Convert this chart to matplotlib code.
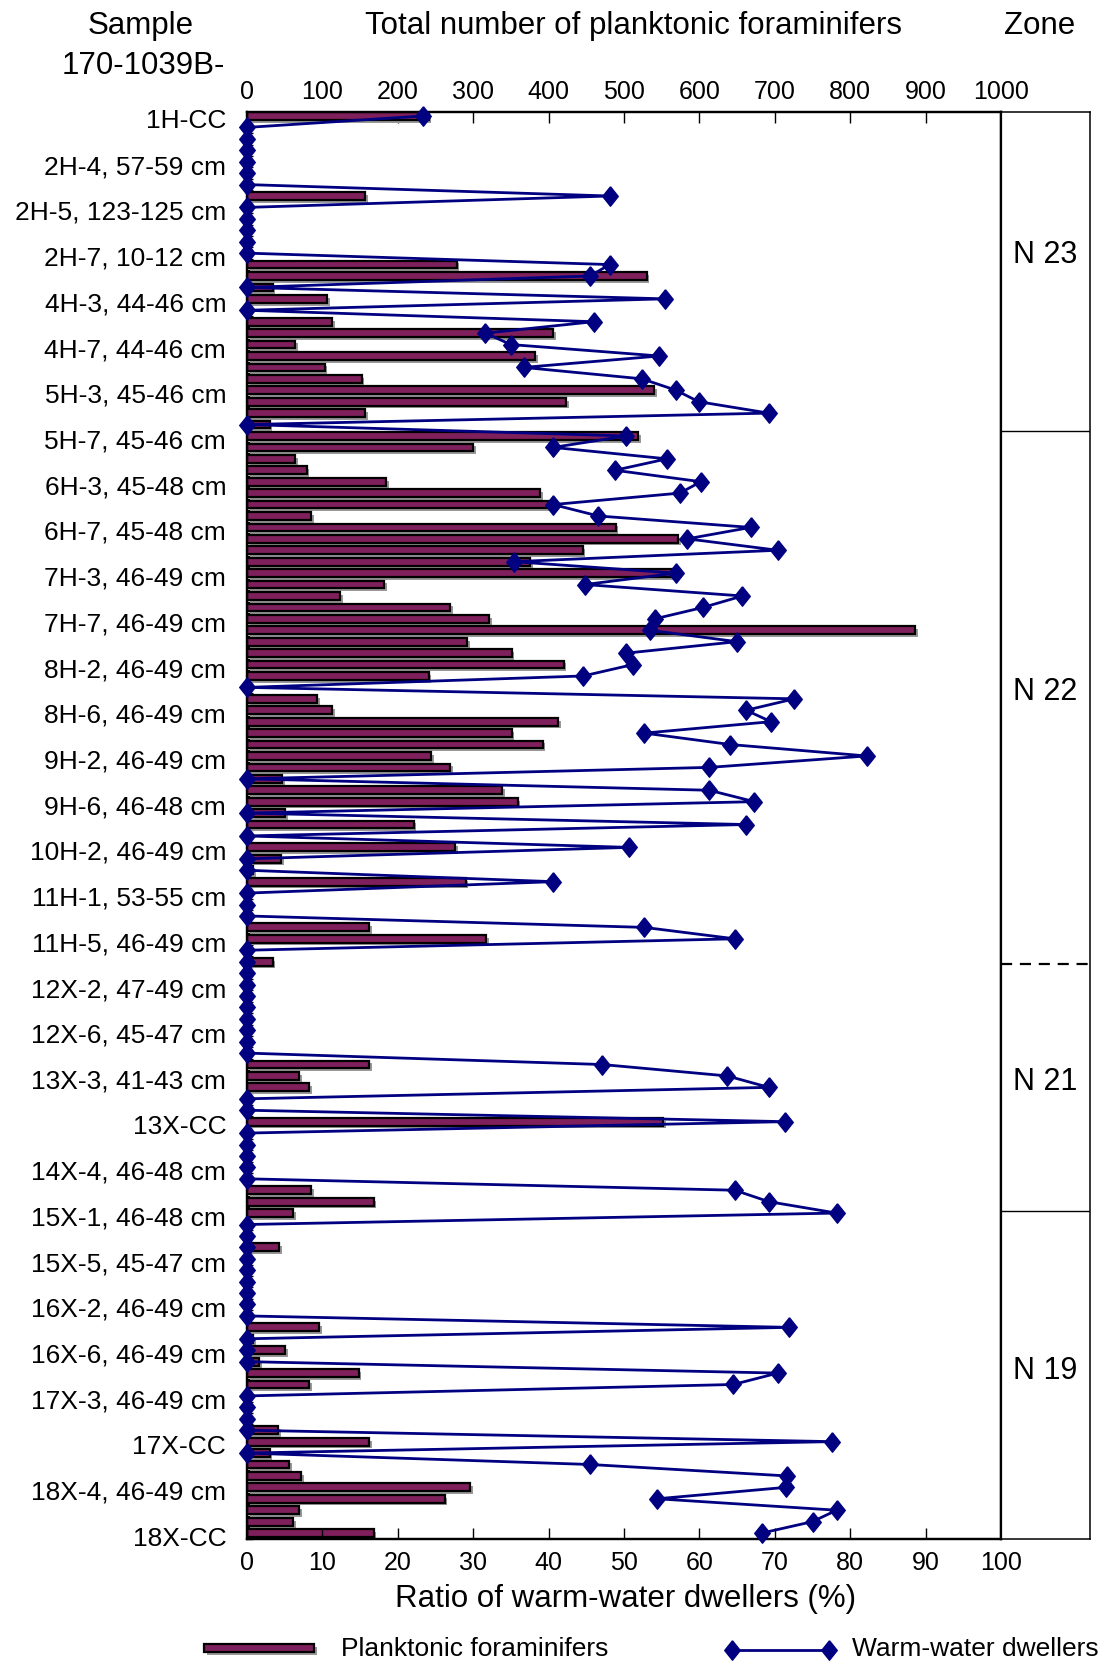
import numpy as np
import matplotlib
matplotlib.use("Agg")
import matplotlib.pyplot as plt
from matplotlib.patches import Rectangle
from matplotlib.lines import Line2D
import matplotlib.patheffects as pe
import matplotlib.transforms as mtransforms

plt.rcParams['font.family'] = ['Liberation Sans', 'DejaVu Sans']

# ---------------- data ----------------
sample_labels = ["1H-CC", "2H-4, 57-59 cm", "2H-5, 123-125 cm", "2H-7, 10-12 cm",
                 "4H-3, 44-46 cm", "4H-7, 44-46 cm", "5H-3, 45-46 cm", "5H-7, 45-46 cm",
                 "6H-3, 45-48 cm", "6H-7, 45-48 cm", "7H-3, 46-49 cm", "7H-7, 46-49 cm",
                 "8H-2, 46-49 cm", "8H-6, 46-49 cm", "9H-2, 46-49 cm", "9H-6, 46-48 cm",
                 "10H-2, 46-49 cm", "11H-1, 53-55 cm", "11H-5, 46-49 cm", "12X-2, 47-49 cm",
                 "12X-6, 45-47 cm", "13X-3, 41-43 cm", "13X-CC", "14X-4, 46-48 cm",
                 "15X-1, 46-48 cm", "15X-5, 45-47 cm", "16X-2, 46-49 cm", "16X-6, 46-49 cm",
                 "17X-3, 46-49 cm", "17X-CC", "18X-4, 46-49 cm", "18X-CC"]
label_every = 4

# total number of planktonic foraminifers (one per sample, top to bottom)
counts = [241, 0, 0, 0, 0, 0, 0, 157, 0, 0,
          0, 0, 0, 278, 530, 34, 106, 0, 113, 406,
          64, 382, 103, 152, 540, 423, 157, 30, 519, 300,
          64, 79, 185, 389, 406, 85, 489, 572, 445, 375,
          563, 182, 123, 269, 321, 886, 292, 351, 420, 241,
          0, 93, 113, 413, 351, 392, 244, 269, 47, 338,
          359, 51, 221, 0, 276, 45, 8, 290, 0, 0,
          0, 162, 317, 0, 34, 0, 0, 0, 0, 0,
          0, 0, 0, 162, 69, 82, 0, 0, 552, 0,
          0, 0, 0, 0, 85, 168, 61, 0, 0, 43,
          0, 0, 0, 0, 0, 0, 96, 8, 51, 16,
          148, 82, 0, 0, 0, 41, 162, 30, 56, 72,
          296, 262, 69, 61, 168]

# ratio of warm-water dwellers (%)
ratios = [23.3, 0, 0, 0, 0, 0, 0, 48.1, 0, 0,
          0, 0, 0, 48.1, 45.5, 0, 55.4, 0, 46.0, 31.6,
          35.0, 54.7, 36.7, 52.4, 56.9, 59.9, 69.2, 0, 50.3, 40.6,
          55.7, 48.8, 60.2, 57.4, 40.6, 46.6, 66.8, 58.4, 70.4, 35.4,
          56.9, 44.8, 65.7, 60.5, 54.1, 53.4, 65.0, 50.3, 51.2, 44.6,
          0, 72.6, 66.2, 69.5, 52.7, 64.1, 82.2, 61.3, 0, 61.3,
          67.3, 0, 66.2, 0, 50.7, 0, 0, 40.6, 0, 0,
          0, 52.7, 64.7, 0, 0, 0, 0, 0, 0, 0,
          0, 0, 0, 47.1, 63.7, 69.2, 0, 0, 71.3, 0,
          0, 0, 0, 0, 64.7, 69.2, 78.2, 0, 0, 0,
          0, 0, 0, 0, 0, 0, 71.9, 0, 0, 0,
          70.4, 64.5, 0, 0, 0, 0, 77.6, 0, 45.5, 71.6,
          71.5, 54.4, 78.2, 75.0, 68.3]

count_ticks = list(range(0, 1001, 100))
ratio_ticks = list(range(0, 101, 10))

zone_names = ["N 23", "N 22", "N 21", "N 19"]
zone_label_rows = [12.2, 50.4, 84.5, 109.8]
zone_bounds = [27.6, 74.2, 95.8]
zone_bound_styles = ["solid", "dashed", "solid"]

# ---------------- styling ----------------
PURPLE = "#7f1f5c"
NAVY = "#000080"
W, H = 1102, 1663

fig = plt.figure(figsize=(W / 100, H / 100), dpi=100)
L, R = 247 / W, 1001 / W
T, B = 1 - 112 / H, 1 - 1539 / H
ax = fig.add_axes([L, B, R - L, T - B])

n = len(counts)
rows = np.arange(n)
bars = ax.barh(rows, counts, height=0.68, color=PURPLE, edgecolor="black",
               linewidth=1.6, zorder=2)
for b in bars:
    b.set_path_effects([pe.SimplePatchShadow(offset=(2, -2), shadow_rgbFace="0.6", alpha=1.0),
                        pe.Normal()])

ax.set_xlim(0, 1000)
ax.set_ylim(n - 1 + 0.52, -0.35)

label_rows = rows[::label_every]
ax.set_yticks(label_rows)
ax.set_yticklabels(sample_labels)
ax.tick_params(axis="y", which="major", length=0, pad=15, labelsize=19)
ax.set_yticks(np.arange(n) + 0.5, minor=True)
ax.tick_params(axis="y", which="minor", direction="in", length=4, width=1.0)
shift = mtransforms.ScaledTranslation(0, -3 / 100, fig.dpi_scale_trans)
for lab in ax.get_yticklabels():
    lab.set_transform(lab.get_transform() + shift)
for s in ax.spines.values():
    s.set_linewidth(1.6)

ax2 = ax.twiny()
diamond = [(0, 1), (0.8, 0), (0, -1), (-0.8, 0), (0, 1)]
ax2.plot(ratios, rows, color=NAVY, lw=2.0, marker=diamond, ms=14,
         markerfacecolor=NAVY, markeredgecolor=NAVY, clip_on=False, zorder=3)
ax2.set_xlim(0, 100)
ax2.set_ylim(n - 1 + 0.52, -0.35)
ax2.xaxis.tick_bottom()
ax2.xaxis.set_label_position("bottom")
ax2.set_xticks(ratio_ticks)
ax2.set_xticklabels([str(t) for t in ratio_ticks])
ax2.tick_params(axis="x", which="both", bottom=True, top=False, labelbottom=True,
                labeltop=False, direction="in", length=8, width=1.0, labelsize=18, pad=9)
for s in ax2.spines.values():
    s.set_linewidth(1.6)

# count axis on top (after twiny, which moves it to the bottom)
ax.xaxis.tick_top()
ax.set_xticks(count_ticks)
ax.set_xticklabels([str(t) for t in count_ticks])
ax.tick_params(axis="x", which="both", top=True, bottom=False, labeltop=True,
               labelbottom=False, direction="in", length=8, width=1.0, labelsize=18, pad=6)

# zone column
zax = fig.add_axes([R, B, 1090 / W - R, T - B])
zax.set_xlim(0, 1)
zax.set_ylim(n - 1 + 0.52, -0.35)
zax.set_xticks([])
zax.set_yticks([])
for k, s in zax.spines.items():
    s.set_linewidth(1.6 if k == "left" else 1.1)
for yb, st in zip(zone_bounds, zone_bound_styles):
    if st == "dashed":
        zax.axhline(yb, color="black", lw=1.6, ls=(0, (5, 3.5)))
    else:
        zax.axhline(yb, color="black", lw=1.0)
for name, yr in zip(zone_names, zone_label_rows):
    zax.text(0.5, yr, name, ha="center", va="center", fontsize=22)

# headers
fig.text(141 / W, 1 - 26 / H, "Sample", ha="center", va="center", fontsize=22.5)
fig.text(143 / W, 1 - 66 / H, "170-1039B-", ha="center", va="center", fontsize=22.5)
fig.text(633 / W, 1 - 26 / H, "Total number of planktonic foraminifers",
         ha="center", va="center", fontsize=22.5)
fig.text(1040 / W, 1 - 26 / H, "Zone", ha="center", va="center", fontsize=22.5)
fig.text(626 / W, 1 - 1599 / H, "Ratio of warm-water dwellers (%)",
         ha="center", va="center", fontsize=22.5)

# legend (drawn manually)
rect = Rectangle((204 / W, 1 - 1652 / H), 110 / W, 8 / H, transform=fig.transFigure,
                 facecolor=PURPLE, edgecolor="black", linewidth=1.6)
rect.set_path_effects([pe.SimplePatchShadow(offset=(2, -2), shadow_rgbFace="0.6", alpha=1.0),
                       pe.Normal()])
fig.add_artist(rect)
fig.text(341 / W, 1 - 1649 / H, "Planktonic foraminifers", ha="left", va="center", fontsize=19)
fig.add_artist(Line2D([732 / W, 829 / W], [1 - 1650 / H, 1 - 1650 / H], transform=fig.transFigure,
                      color=NAVY, lw=2.0, marker=diamond, ms=14,
                      markerfacecolor=NAVY, markeredgecolor=NAVY))
fig.text(852 / W, 1 - 1649 / H, "Warm-water dwellers", ha="left", va="center", fontsize=19)

fig.savefig("out.png", dpi=100)
